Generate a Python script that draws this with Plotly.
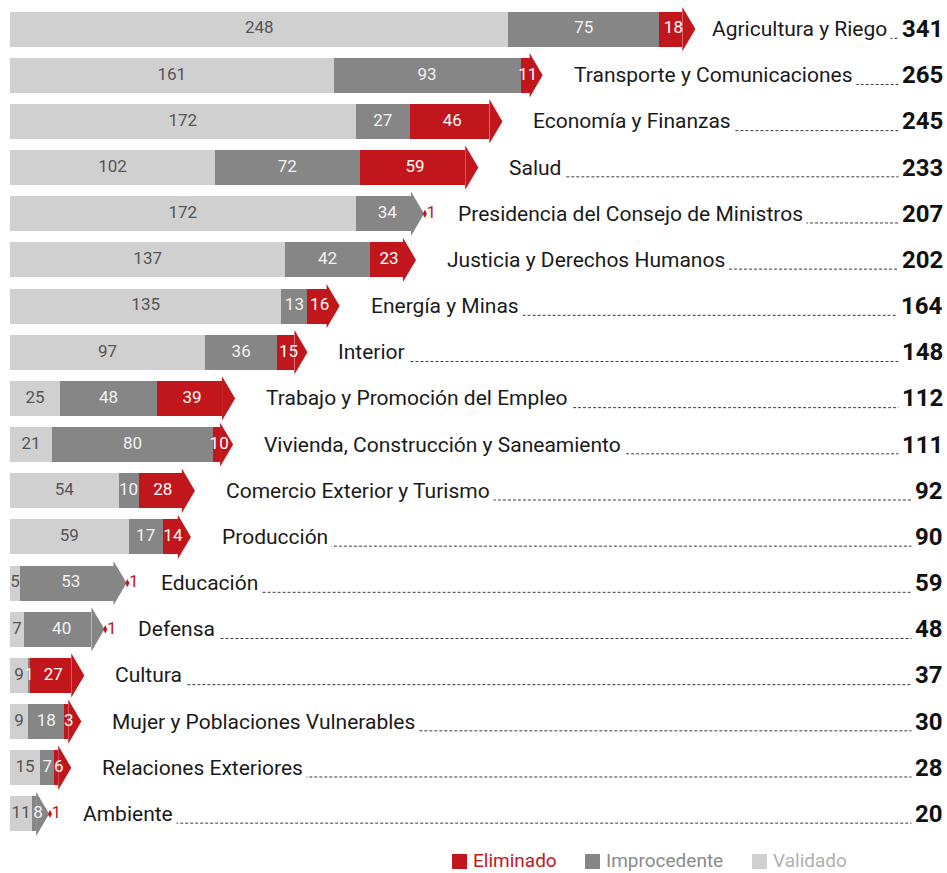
import plotly.graph_objects as go

categories = [
    "Agricultura y Riego", "Transporte y Comunicaciones", "Economía y Finanzas", "Salud",
    "Presidencia del Consejo de Ministros", "Justicia y Derechos Humanos", "Energía y Minas",
    "Interior", "Trabajo y Promoción del Empleo", "Vivienda, Construcción y Saneamiento",
    "Comercio Exterior y Turismo", "Producción", "Educación", "Defensa", "Cultura",
    "Mujer y Poblaciones Vulnerables", "Relaciones Exteriores", "Ambiente",
]
validado = [248, 161, 172, 102, 172, 137, 135, 97, 25, 21, 54, 59, 5, 7, 9, 9, 15, 11]
improcedente = [75, 93, 27, 72, 34, 42, 13, 36, 48, 80, 10, 17, 53, 40, 1, 18, 7, 8]
eliminado = [18, 11, 46, 59, 1, 23, 16, 15, 39, 10, 28, 14, 1, 1, 27, 3, 6, 1]
legend_labels = ["Eliminado", "Improcedente", "Validado"]

RED = "#c1171c"
GRAY = "#868686"
LIGHT = "#d0d0d0"
FONT = "Roboto, Liberation Sans, sans-serif"

W, H = 947, 873
ML, MR, MT, MB = 10, 2, 6, 36
PX = 2.01     # pixels per unit
HL = 6.5      # arrow head length (data units)
HH = 0.48     # arrow head half height (row units)
BW = 0.76     # bar thickness
XMAX = (W - ML - MR) / PX

n = len(categories)
ys = list(range(n))
totals = [v + i + e for v, i, e in zip(validado, improcedente, eliminado)]

light_len, gray_base, gray_len, red_base, red_len = [], [], [], [], []
heads = {RED: ([], []), GRAY: ([], [])}
slivers = ([], [])
tips = []
lab = {"light": ([], [], []), "gray": ([], [], []), "red": ([], [], []), "out": ([], [], [])}
for y, v, i, e, t in zip(ys, validado, improcedente, eliminado, totals):
    light_len.append(v)
    lab["light"][0].append(v / 2); lab["light"][1].append(y); lab["light"][2].append(str(v))
    if e >= 2:
        hb = max(t - HL, v + i + 2)
        tip = hb + HL
        gray_base.append(v); gray_len.append(i)
        red_base.append(v + i); red_len.append(hb - (v + i))
        hx, hy = heads[RED]
        hx += [hb, tip, hb, hb, None]; hy += [y - HH, y, y + HH, y - HH, None]
        lab["gray"][0].append(v + i / 2); lab["gray"][1].append(y); lab["gray"][2].append(str(i))
        lab["red"][0].append((v + i + hb + HL * 0.4) / 2); lab["red"][1].append(y); lab["red"][2].append(str(e))
    else:
        hb = max(v + i - HL, v + 2)
        tip = hb + HL
        gray_base.append(v); gray_len.append(hb - v)
        red_base.append(None); red_len.append(None)
        hx, hy = heads[GRAY]
        hx += [hb, tip, hb, hb, None]; hy += [y - HH, y, y + HH, y - HH, None]
        sx, sy = slivers
        sx += [tip - 0.6, tip + 0.4, tip + 1.4, tip + 0.4, tip - 0.6, None]
        sy += [y, y - 0.09, y, y + 0.09, y, None]
        lab["gray"][0].append((v + hb + HL * 0.6) / 2); lab["gray"][1].append(y); lab["gray"][2].append(str(i))
        lab["out"][0].append(tip + 1.2); lab["out"][1].append(y); lab["out"][2].append(str(e))
        tip = tip + 1.5
    tips.append(tip)

fig = go.Figure()
fig.add_trace(go.Bar(y=ys, x=light_len, base=[0] * n, orientation="h", width=BW,
                     marker=dict(color=LIGHT, line=dict(width=0)), hoverinfo="skip", showlegend=False))
fig.add_trace(go.Bar(y=ys, x=gray_len, base=gray_base, orientation="h", width=BW,
                     marker=dict(color=GRAY, line=dict(width=0)), hoverinfo="skip", showlegend=False))
fig.add_trace(go.Bar(y=ys, x=red_len, base=red_base, orientation="h", width=BW,
                     marker=dict(color=RED, line=dict(width=0)), hoverinfo="skip", showlegend=False))
for col, (hx, hy) in heads.items():
    fig.add_trace(go.Scatter(x=hx, y=hy, mode="lines", fill="toself", fillcolor=col,
                             line=dict(width=0, color=col), hoverinfo="skip", showlegend=False))
fig.add_trace(go.Scatter(x=slivers[0], y=slivers[1], mode="lines", fill="toself", fillcolor=RED,
                         line=dict(width=0, color=RED), hoverinfo="skip", showlegend=False))

longest = max(totals)
gaps = [13 if t == longest else 27 for t in totals]

# dotted leader lines
lx, ly = [], []
for y, tp, g in zip(ys, tips, gaps):
    lx += [tp + (g + 6) / PX, XMAX, None]; ly += [y + 0.2, y + 0.2, None]
fig.add_trace(go.Scatter(x=lx, y=ly, mode="lines", line=dict(color="#3a3a3a", width=1, dash="3px,2px"),
                         hoverinfo="skip", showlegend=False))

for key, col in [("light", "#555555"), ("gray", "#f2f2f2"), ("red", "#ffffff"), ("out", RED)]:
    x_, y_, t_ = lab[key]
    fig.add_trace(go.Scatter(x=x_, y=y_, text=t_, mode="text",
                             textposition="middle right" if key == "out" else "middle center",
                             textfont=dict(family=FONT, size=17, color=col),
                             hoverinfo="skip", showlegend=False))

for y, name, t, tp, g in zip(ys, categories, totals, tips, gaps):
    fig.add_annotation(x=tp, y=y, xref="x", yref="y", text=name, showarrow=False,
                       xanchor="left", yanchor="middle", xshift=g, yshift=0,
                       font=dict(family=FONT, size=21, color="#1a1a1a"),
                       bgcolor="white", borderpad=3)
    fig.add_annotation(x=1, y=y, xref="paper", yref="y", text="<b>%d</b>" % t, showarrow=False,
                       xanchor="right", yanchor="middle", xshift=2,
                       font=dict(family=FONT, size=24, color="#111111"),
                       bgcolor="white", borderpad=3)

# legend (custom, below the plot)
plot_w = W - ML - MR
plot_h = H - MT - MB
def px_x(p):
    return (p - ML) / plot_w
def px_y(p):
    return (H - MB - p) / plot_h
legend_sq_px = [452, 585, 752]
legend_cols = [RED, GRAY, LIGHT]
legend_txt_cols = [RED, "#8a8a8a", "#b0b0b0"]
for lbl, sx, sc, tc in zip(legend_labels, legend_sq_px, legend_cols, legend_txt_cols):
    fig.add_shape(type="rect", xref="paper", yref="paper", x0=px_x(sx), x1=px_x(sx + 15),
                  y0=px_y(869), y1=px_y(854), fillcolor=sc, line=dict(width=0))
    fig.add_annotation(x=px_x(sx + 19), y=px_y(860), xref="paper", yref="paper", text=lbl,
                       showarrow=False, xanchor="left", yanchor="middle",
                       font=dict(family=FONT, size=19, color=tc))

fig.update_layout(
    width=W, height=H, paper_bgcolor="white", plot_bgcolor="white",
    margin=dict(l=ML, r=MR, t=MT, b=MB, autoexpand=False),
    barmode="overlay", bargap=0,
    xaxis=dict(range=[0, XMAX], visible=False, fixedrange=True),
    yaxis=dict(range=[n - 0.5, -0.5], visible=False, fixedrange=True),
    showlegend=False,
)
fig.write_html("out.html", config={"displayModeBar": False},
               post_script="document.body.style.margin='0px';document.body.style.overflow='hidden';")
